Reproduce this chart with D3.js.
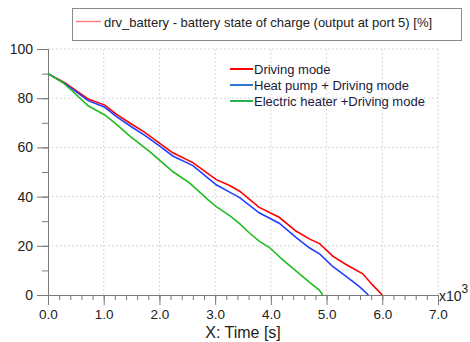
<!DOCTYPE html>
<html>
<head>
<meta charset="utf-8">
<script src="https://cdn.jsdelivr.net/npm/d3@7"></script>
<style>
  body { margin: 0; background: #fff; }
  text { font-family: "Liberation Sans", Arial, sans-serif; }
</style>
</head>
<body>
<div id="chart"></div>
<script>
// time in seconds, state of charge in %
var drivingT = [0, 300, 720, 1020, 1230, 1490, 1730, 2000, 2240, 2600, 3020, 3260, 3440, 3790, 4150, 4450, 4690, 4880, 5110, 5350, 5650, 5820, 6000];
var drivingV = [90, 86.3, 79.7, 77.2, 73.4, 69.6, 66.2, 61.7, 57.8, 53.8, 46.9, 44.5, 42.2, 35.6, 31.6, 26, 22.8, 20.8, 15.8, 12.4, 8.6, 4.2, 0];

var heatPumpT = [0, 300, 720, 1020, 1230, 1490, 1730, 2000, 2240, 2600, 3020, 3260, 3440, 3790, 4150, 4450, 4690, 4880, 5110, 5350, 5590, 5750];
var heatPumpV = [90, 86, 79, 76.3, 72.5, 68.5, 65, 60.6, 56.5, 52.6, 44.8, 41.8, 39.6, 33.4, 29.2, 23.4, 19.2, 16.6, 11.6, 7.6, 3.4, 0];

var heaterT = [0, 270, 480, 720, 1020, 1230, 1480, 1820, 2000, 2250, 2540, 2870, 3020, 3260, 3440, 3610, 3790, 3970, 4210, 4690, 4870, 4930];
var heaterV = [90, 86.3, 82, 76.9, 73.2, 69.4, 64.4, 58.4, 54.8, 50, 45.6, 38.8, 35.9, 32.3, 29, 25.3, 21.9, 19.4, 14.4, 5.2, 2, 0];

var seriesNames = ["Driving mode", "Heat pump + Driving mode", "Electric heater +Driving mode"];
var seriesColors = ["#ff0000", "#2040ff", "#22bb22"];
var legendColors = ["#ff0000", "#2878d0", "#22b050"];
var xTicks = [0, 1000, 2000, 3000, 4000, 5000, 6000, 7000];
var yTicks = [0, 20, 40, 60, 80, 100];

var W = 470, H = 342;
var margin = {top: 49, right: 32, bottom: 47, left: 48};
var width = W - margin.left - margin.right,
    height = H - margin.top - margin.bottom;

var svg = d3.select("#chart").append("svg")
    .attr("width", W).attr("height", H);

var g = svg.append("g")
    .attr("transform", "translate(" + margin.left + "," + margin.top + ")");

var x = d3.scaleLinear().domain([0, 7000]).range([0, width]);
var y = d3.scaleLinear().domain([0, 100]).range([height, 0]);

// grid
g.append("g").selectAll("line").data(xTicks.slice(1)).enter().append("line")
    .attr("x1", function(d) { return x(d); }).attr("x2", function(d) { return x(d); })
    .attr("y1", 0).attr("y2", height)
    .attr("stroke", "#d8d8d8").attr("stroke-dasharray", "2,2");
g.append("g").selectAll("line").data(yTicks.slice(1)).enter().append("line")
    .attr("y1", function(d) { return y(d); }).attr("y2", function(d) { return y(d); })
    .attr("x1", 0).attr("x2", width)
    .attr("stroke", "#d8d8d8").attr("stroke-dasharray", "2,2");

// X axis: minor + major ticks
var xAxisG = g.append("g").attr("transform", "translate(0," + height + ")");
xAxisG.call(d3.axisBottom(x).ticks(35).tickSize(5).tickFormat(""));
xAxisG.append("g").call(d3.axisBottom(x).tickValues(xTicks).tickSize(10)
    .tickFormat(function(d) { return (d / 1000).toFixed(1); }));
xAxisG.selectAll("path.domain").attr("stroke", "#7a7a7a");
xAxisG.selectAll("line").attr("stroke", "#7a7a7a");
xAxisG.selectAll("text").attr("font-size", 13.5).attr("fill", "#222")
    .attr("font-family", "Liberation Sans, Arial, sans-serif").attr("dy", "0.85em");

// Y axis
var yAxisG = g.append("g");
yAxisG.call(d3.axisLeft(y).ticks(10).tickSize(6).tickFormat(""));
yAxisG.append("g").call(d3.axisLeft(y).tickValues(yTicks).tickSize(11).tickPadding(4));
yAxisG.selectAll("path.domain").attr("stroke", "#7a7a7a");
yAxisG.selectAll("line").attr("stroke", "#7a7a7a");
yAxisG.selectAll("text").attr("font-size", 14).attr("fill", "#222")
    .attr("font-family", "Liberation Sans, Arial, sans-serif");

// x10^3
var mult = g.append("text").attr("x", width + 1).attr("y", height + 6)
    .attr("font-size", 14).attr("fill", "#222");
mult.append("tspan").text("x10");
mult.append("tspan").attr("dy", -8).attr("font-size", 12).text("3");

// axis title
svg.append("text").attr("x", margin.left + width / 2).attr("y", 338)
    .attr("text-anchor", "middle").attr("font-size", 16).attr("fill", "#222")
    .text("X: Time [s]");

// lines
var series = [
  {t: drivingT, v: drivingV},
  {t: heatPumpT, v: heatPumpV},
  {t: heaterT, v: heaterV}
];
var line = d3.line()
    .x(function(d) { return x(d[0]); })
    .y(function(d) { return y(d[1]); });

series.forEach(function(s, i) {
  var pts = s.t.map(function(t, j) { return [t, s.v[j]]; });
  g.append("path").datum(pts)
    .attr("fill", "none")
    .attr("stroke", seriesColors[i])
    .attr("stroke-width", 1.6)
    .attr("d", line);
});

// inner legend
var leg = svg.append("g").attr("transform", "translate(230,69)");
seriesNames.forEach(function(name, i) {
  leg.append("line").attr("x1", 0).attr("x2", 23)
    .attr("y1", i * 16).attr("y2", i * 16)
    .attr("stroke", legendColors[i]).attr("stroke-width", 2);
  leg.append("text").attr("x", 24).attr("y", i * 16 + 5)
    .attr("font-size", 13).attr("fill", "#1a1a3a")
    .attr("font-family", "Noto Sans CJK KR, Noto Sans, sans-serif")
    .text(name);
});

// top legend box
svg.append("rect").attr("x", 72.5).attr("y", 8.5).attr("width", 389).attr("height", 32)
  .attr("fill", "#fff").attr("stroke", "#8a8a8a");
svg.append("line").attr("x1", 76).attr("x2", 101).attr("y1", 21.5).attr("y2", 21.5)
  .attr("stroke", "#ff8080").attr("stroke-width", 1.5);
svg.append("text").attr("x", 104).attr("y", 26.5).attr("font-size", 13).attr("fill", "#222")
  .text("drv_battery - battery state of charge (output at port 5) [%]");
</script>
</body>
</html>
